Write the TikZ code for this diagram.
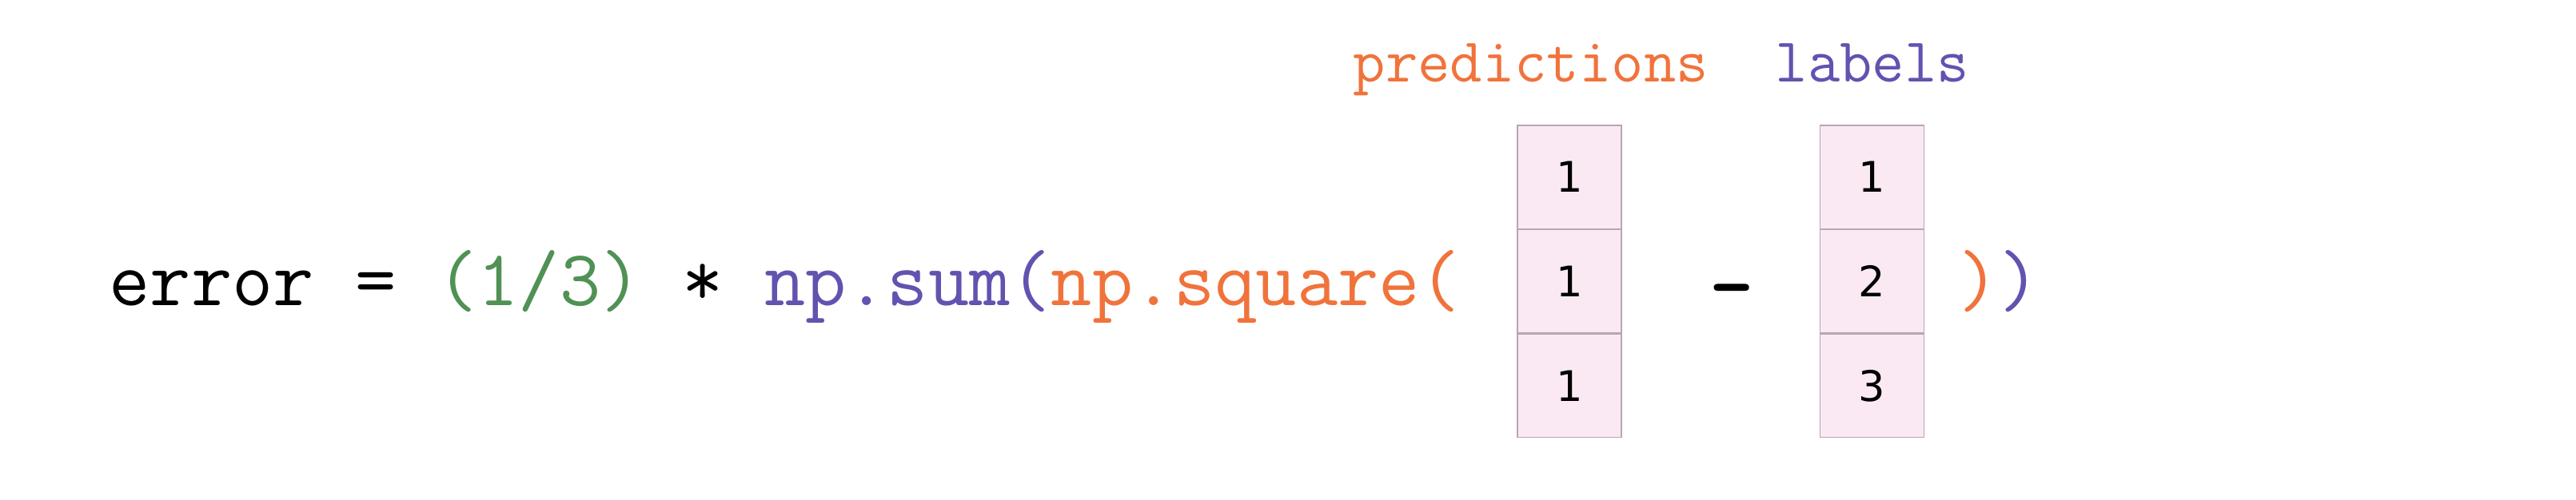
\documentclass[tikz,border=0pt]{standalone}
\usepackage{fontspec}
\usepackage{xcolor}
\usetikzlibrary{positioning}
\newfontfamily\digitfont{DejaVu Sans}
\definecolor{sqorange}{RGB}{240,115,60}
\definecolor{sumpurple}{RGB}{99,82,176}
\definecolor{fracgreen}{RGB}{80,145,85}
\definecolor{cellpink}{RGB}{250,233,243}
\definecolor{cellrim}{RGB}{185,165,180}

\tikzset{
	code/.style={inner sep=0, anchor=base west, font=\ttfamily\fontsize{28.3}{34}\selectfont},
	tag/.style={inner sep=0, anchor=base west, font=\ttfamily\fontsize{22.3}{26}\selectfont},
	cell/.style={draw=cellrim, fill=cellpink, line width=0.4pt, inner sep=0,
		minimum width=1.30cm, minimum height=1.293cm, font=\digitfont\fontsize{15}{18}\selectfont}
}

\begin{document}
\begin{tikzpicture}
	\useasboundingbox (0,0) rectangle (32.22,-6.25);
	
	\node[code] (expr) at (1.36,-3.82) {error = \textcolor{fracgreen}{(1/3)} * \textcolor{sumpurple}{np.sum(}\textcolor{sqorange}{np.square(}};
	
	% predictions column
	\node[cell] (p1) at (19.63,-2.217) {1};
	\node[cell, below=0cm of p1] (p2) {1};
	\node[cell, below=0cm of p2] (p3) {1};
	
	\node[font=\ttfamily\bfseries\fontsize{30}{36}\selectfont, inner sep=0] (minus) at (21.665,-3.74) {-};
	
	% labels column
	\node[cell] (l1) at (23.415,-2.217) {1};
	\node[cell, below=0cm of l1] (l2) {2};
	\node[cell, below=0cm of l2] (l3) {3};
	
	\node[code] (close) at (24.49,-3.82) {\textcolor{sqorange}{)}\textcolor{sumpurple}{)}};
	
	\node[tag, text=sqorange] (predtag) at (16.92,-1.02) {predictions};
	\node[tag, text=sumpurple] (labtag) at (22.20,-1.02) {labels};
	
\end{tikzpicture}
\end{document}
